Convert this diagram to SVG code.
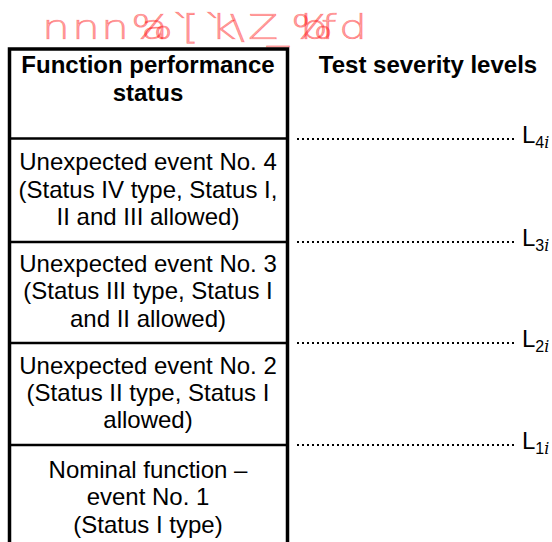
<svg xmlns="http://www.w3.org/2000/svg" width="552" height="542" viewBox="0 0 552 542">
<style>
.hd{font-family:"Liberation Sans",Arial,sans-serif;font-size:24px;font-weight:bold;fill:#000;text-anchor:middle}
.tx{font-family:"Liberation Sans",Arial,sans-serif;font-size:24px;fill:#000;text-anchor:middle}
.lb{font-family:"Liberation Sans",Arial,sans-serif;font-size:24px;fill:#000}
.sub{font-size:16px}
.it{font-family:"DejaVu Serif","Liberation Serif",serif;font-style:italic;font-size:16px}
.wm{font-family:"DejaVu Sans",sans-serif;font-weight:200;font-size:34px;fill:#ff0000;fill-opacity:0.36;stroke:#ff0000;stroke-opacity:0.36;stroke-width:0.7}
.border{stroke:#000;stroke-width:3.5;fill:none}
.div{stroke:#000;stroke-width:2.5;fill:none}
.dot{stroke:#000;stroke-width:2;stroke-dasharray:2 3;fill:none}
</style>
<rect width="552" height="542" fill="#fff"/>
<g id="watermark" transform="scale(1.3,1)">
<text class="wm" y="39"><tspan x="32.3">n</tspan><tspan x="55.4">n</tspan><tspan x="77.7">n</tspan><tspan x="100.8">%</tspan><tspan x="108.5">a</tspan><tspan x="131.5">`</tspan><tspan x="140">[</tspan><tspan x="156.2">`</tspan><tspan x="162.3">k</tspan><tspan x="176.9">\</tspan><tspan x="190.8">Z</tspan><tspan x="205.4">_</tspan><tspan x="223.8">%</tspan><tspan x="230.8">b</tspan><tspan x="246.9">f</tspan><tspan x="260.8">d</tspan></text>
</g>
<g id="frame">
<path class="border" d="M9.5 542 V49 H287.5 V542"/>
</g>
<g id="header">
<text class="hd" x="148" y="73">Function performance</text>
<text class="hd" x="148" y="101">status</text>
</g>
<g id="levels-title">
<text class="hd" x="428" y="73">Test severity levels</text>
</g>
<g id="event4">
<text class="tx" x="148" y="170">Unexpected event No. 4</text>
<text class="tx" x="148" y="198">(Status IV type, Status I,</text>
<text class="tx" x="148" y="225">II and III allowed)</text>
</g>
<g id="event3">
<text class="tx" x="148" y="272">Unexpected event No. 3</text>
<text class="tx" x="148" y="299">(Status III type, Status I</text>
<text class="tx" x="148" y="327">and II allowed)</text>
</g>
<g id="event2">
<text class="tx" x="148" y="374">Unexpected event No. 2</text>
<text class="tx" x="148" y="401">(Status II type, Status I</text>
<text class="tx" x="148" y="428">allowed)</text>
</g>
<g id="event1">
<text class="tx" x="148" y="478">Nominal function –</text>
<text class="tx" x="148" y="505">event No. 1</text>
<text class="tx" x="148" y="533">(Status I type)</text>
</g>
<g id="connectors">
<path class="div" d="M9.5 138.5 H288"/>
<path class="div" d="M9.5 242 H288"/>
<path class="div" d="M9.5 343 H288"/>
<path class="div" d="M9.5 445 H288"/>
<path class="dot" d="M297 139 H515"/>
<path class="dot" d="M297 242 H515"/>
<path class="dot" d="M297 343 H515"/>
<path class="dot" d="M297 445 H515"/>
</g>
<g id="L4"><text class="lb" x="522" y="143">L<tspan class="sub" dy="5">4</tspan><tspan class="it">i</tspan></text></g>
<g id="L3"><text class="lb" x="522" y="246">L<tspan class="sub" dy="5">3</tspan><tspan class="it">i</tspan></text></g>
<g id="L2"><text class="lb" x="522" y="347">L<tspan class="sub" dy="5">2</tspan><tspan class="it">i</tspan></text></g>
<g id="L1"><text class="lb" x="522" y="449">L<tspan class="sub" dy="5">1</tspan><tspan class="it">i</tspan></text></g>
</svg>
